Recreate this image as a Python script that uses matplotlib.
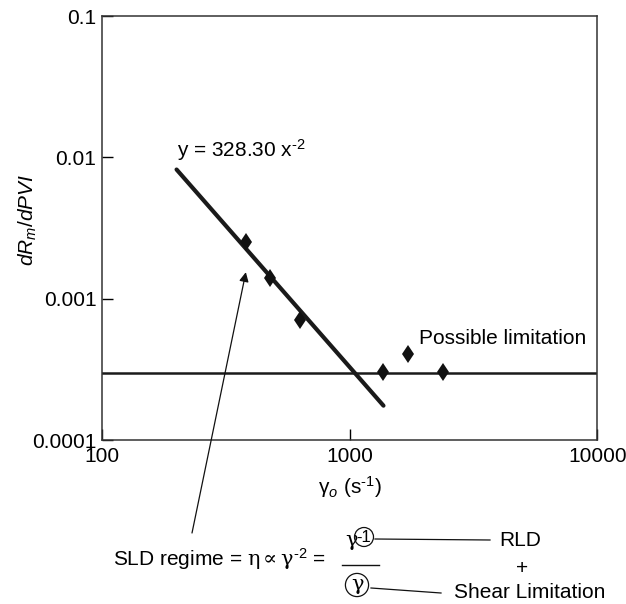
import matplotlib
matplotlib.use('Agg')
import matplotlib.pyplot as plt

plt.rcParams['font.family'] = ['Liberation Sans', 'DejaVu Sans']
plt.rcParams['mathtext.fontset'] = 'custom'
plt.rcParams['mathtext.rm'] = 'Liberation Sans'
plt.rcParams['mathtext.it'] = 'Liberation Sans:italic'
plt.rcParams['mathtext.sf'] = 'DejaVu Serif'
plt.rcParams['mathtext.fallback'] = 'stixsans'

# measured points (shear rate, dRm/dPVI)
shear = [381, 477, 631, 1366, 1723, 2387]
drm = [0.00253, 0.0014, 0.000706, 0.000303, 0.000406, 0.000303]

# power law fit y = 328.30 x^-2, end points
fit_x = [200, 1370]
fit_y = [0.0082, 0.000175]

limit_level = 0.0003

x_ticks = [100, 1000, 10000]
x_labels = ['100', '1000', '10000']
y_ticks = [0.0001, 0.001, 0.01, 0.1]
y_labels = ['0.0001', '0.001', '0.01', '0.1']

fig = plt.figure(figsize=(6.26, 6.04), dpi=100)
ax = fig.add_axes([0.163, 0.2715, 0.791, 0.702])

ax.plot(fit_x, fit_y, color='#1a1a1a', lw=3.0, solid_capstyle='round')
ax.axhline(limit_level, color='#1a1a1a', lw=1.8)
ax.plot(shear, drm, linestyle='none', marker='d', markersize=9.5,
        color='#111111', markeredgewidth=0)

ax.set_xscale('log')
ax.set_yscale('log')
ax.set_xlim(100, 10000)
ax.set_ylim(0.0001, 0.1)
ax.set_xticks(x_ticks)
ax.set_xticklabels(x_labels)
ax.set_yticks(y_ticks)
ax.set_yticklabels(y_labels)
ax.minorticks_off()
ax.tick_params(direction='in', length=8, width=1.0, labelsize=15, pad=5)
ax.tick_params(axis='y', pad=4)
for s in ax.spines.values():
    s.set_linewidth(1.1)
    s.set_color('#333333')

ax.set_xlabel('γ$_{o}$ (s$^{\\text{-1}}$)', fontsize=15, labelpad=6)
ax.set_ylabel('$dR_m/dPVI$', fontsize=15)
ax.yaxis.set_label_coords(-0.128, 0.52)

ax.text(201, 0.0101, 'y = 328.30 x$^{\\text{-2}}$', fontsize=15, va='baseline')
ax.text(1900, 0.00048, 'Possible limitation', fontsize=15)

# arrow from the SLD note up to the fit line
ax.annotate('', xy=(381, 0.00154), xycoords='data',
            xytext=(192 / 626, 1 - 533 / 604), textcoords='figure fraction',
            arrowprops=dict(arrowstyle='-|>', lw=0.9, color='#111111',
                            mutation_scale=14, shrinkA=0, shrinkB=0))


def fx(px):
    return px / 626


def fy(py):
    return 1 - py / 604


fig.text(fx(113), fy(566),
         'SLD regime = $\\mathsf{\\eta}\\mathsf{\\propto}\\mathsf{\\gamma}^{\\text{-2}}$ =',
         fontsize=15, va='baseline')
# fraction
fig.text(fx(352), fy(541), 'γ', fontsize=15, ha='center', va='center',
         family='DejaVu Serif')
fig.text(fx(364), fy(537), '-1', fontsize=12, ha='center', va='center',
         bbox=dict(boxstyle='circle,pad=0.12', fc='none', ec='#111111', lw=0.9))
fig.add_artist(plt.Line2D([fx(342), fx(379)], [fy(565), fy(565)],
                          color='#111111', lw=1.0))
fig.text(fx(357), fy(585), 'γ', fontsize=15, ha='center', va='center',
         family='DejaVu Serif',
         bbox=dict(boxstyle='circle,pad=0.1', fc='none', ec='#111111', lw=0.9))
fig.add_artist(plt.Line2D([fx(375), fx(490)], [fy(539), fy(540)],
                          color='#111111', lw=0.9))
fig.add_artist(plt.Line2D([fx(371), fx(441)], [fy(588), fy(593)],
                          color='#111111', lw=0.9))
fig.text(fx(520), fy(541), 'RLD', fontsize=15, ha='center', va='center')
fig.text(fx(522), fy(569), '+', fontsize=15, ha='center', va='center')
fig.text(fx(530), fy(593), 'Shear Limitation', fontsize=15, ha='center',
         va='center')

fig.savefig('out.png', dpi=100)
